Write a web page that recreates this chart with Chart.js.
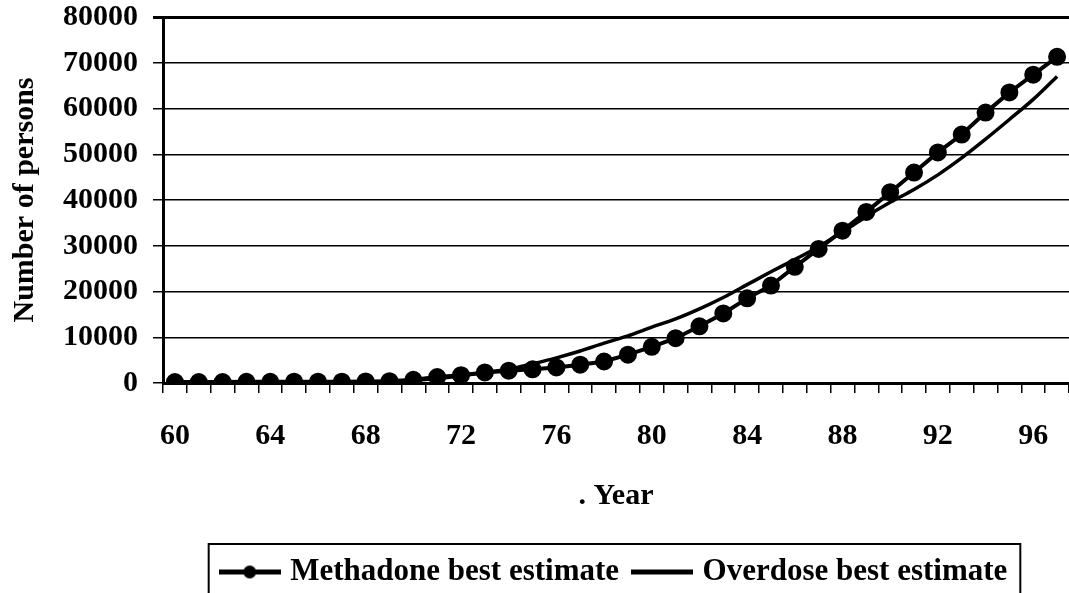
<!DOCTYPE html>
<html>
<head>
<meta charset="utf-8">
<script src="https://cdn.jsdelivr.net/npm/chart.js"></script>
<style>
  body { margin: 0; background: #fff; }
  #chart-wrapper { width: 1069px; height: 593px; }
</style>
</head>
<body>
<div id="chart-wrapper">
    <canvas id="my-chart"></canvas>
</div>

<script>
// years 1960 - 1997
var years = ['60','61','62','63','64','65','66','67','68','69',
             '70','71','72','73','74','75','76','77','78','79',
             '80','81','82','83','84','85','86','87','88','89',
             '90','91','92','93','94','95','96','97'];
var shownYears = ['60','64','68','72','76','80','84','88','92','96'];

var methadone = [200, 200, 200, 250, 250, 300, 300, 300, 350, 400,
                 700, 1300, 1700, 2300, 2700, 3000, 3400, 4000, 4700, 6200,
                 7900, 9800, 12400, 15200, 18500, 21300, 25400, 29300, 33300, 37400,
                 41700, 46000, 50400, 54300, 59100, 63500, 67400, 71300];

var overdose = [0, 0, 50, 100, 100, 150, 200, 250, 300, 400,
                600, 1000, 1600, 2300, 3000, 4200, 5500, 7000, 8700, 10300,
                12200, 14000, 16200, 18700, 21500, 24300, 27000, 29800, 33000, 36400,
                39500, 42300, 45500, 49200, 53300, 57600, 62000, 67000];

var seriesNames = ['Methadone best estimate', 'Overdose best estimate'];
var yTitle = 'Number of persons';
var xTitle = '. Year';

var FONT = '"Liberation Serif", "Times New Roman", serif';

// little pictures for the legend: line with dot, plain line
function legendIcon(withDot) {
    var c = document.createElement('canvas');
    c.width = 62;
    c.height = 16;
    var g = c.getContext('2d');
    g.fillStyle = '#000';
    g.fillRect(0, 6, 62, 5);
    if (withDot) {
        g.beginPath();
        g.arc(31, 8.5, 6.5, 0, Math.PI * 2);
        g.fill();
    }
    return c;
}
var icons = [legendIcon(true), legendIcon(false)];

var legendBox = {
    id: 'legendBox',
    afterDraw: function(chart) {
        var hb = chart.legend.legendHitBoxes;
        if (!hb || !hb.length) return;
        var last = hb[hb.length - 1];
        var c = chart.ctx;
        c.save();
        c.strokeStyle = '#000';
        c.lineWidth = 2;
        var left = hb[0].left - 16;
        var right = last.left + last.width + 13;
        var top = hb[0].top - 12;
        c.strokeRect(left, top, right - left, 80);
        c.restore();
    }
};

const ctx = document.getElementById('my-chart');
var chart = new Chart(ctx, {
    type: 'line',
    data: {
        labels: years,
        datasets: [{
            label: seriesNames[0],
            data: methadone,
            borderColor: '#000',
            backgroundColor: '#000',
            borderWidth: 4,
            pointRadius: 7,
            pointStyle: 'circle',
            pointBackgroundColor: '#000',
            pointBorderColor: '#000',
            tension: 0
        }, {
            label: seriesNames[1],
            data: overdose,
            borderColor: '#000',
            backgroundColor: '#000',
            borderWidth: 3.5,
            pointRadius: 0,
            cubicInterpolationMode: 'monotone'
        }]
    },
    options: {
        responsive: true,
        maintainAspectRatio: false,
        animation: false,
        layout: { autoPadding: false, padding: { top: 0, right: 0, bottom: -4, left: 0 } },
        plugins: {
            tooltip: { enabled: false },
            legend: {
                position: 'bottom',
                fullSize: false,
                labels: {
                    color: '#000',
                    font: { family: FONT, size: 31, weight: 'bold' },
                    usePointStyle: true,
                    pointStyleWidth: 50,
                    padding: 18,
                    generateLabels: function(chart) {
                        var items = Chart.defaults.plugins.legend.labels.generateLabels(chart);
                        items.forEach(function(it, i) { it.pointStyle = icons[i]; });
                        return items;
                    }
                }
            }
        },
        scales: {
            x: {
                type: 'category',
                offset: true,
                afterFit: function(s) {
                    s.height = 155;
                    s.paddingLeft = 0;
                    s.paddingRight = 0;
                },
                grid: {
                    offset: true,
                    drawOnChartArea: false,
                    drawTicks: true,
                    tickLength: 10,
                    color: '#000',
                    lineWidth: 1.5
                },
                border: { display: true, color: '#000', width: 3 },
                ticks: {
                    autoSkip: false,
                    maxRotation: 0,
                    padding: 8,
                    color: '#000',
                    font: { family: FONT, size: 30, weight: 'bold', lineHeight: 2.33 },
                    callback: function(v, i) {
                        var y = this.getLabelForValue(v);
                        return shownYears.indexOf(y) === -1 ? '' : y;
                    }
                },
                title: {
                    display: true,
                    text: xTitle,
                    color: '#000',
                    font: { family: FONT, size: 30, weight: 'bold' },
                    padding: { top: 0, bottom: 24 }
                }
            },
            y: {
                min: 0,
                max: 80000,
                afterFit: function(s) {
                    s.width = 163;
                    s.paddingTop = 17;
                    s.paddingBottom = 0;
                },
                grid: {
                    color: '#000',
                    lineWidth: function(c) { return c.tick && c.tick.value === 80000 ? 3 : 1.5; },
                    tickLength: 10
                },
                border: { display: true, color: '#000', width: 3 },
                ticks: {
                    stepSize: 10000,
                    padding: 15,
                    color: '#000',
                    font: { family: FONT, size: 30, weight: 'bold' },
                    callback: function(v) { return String(v); }
                },
                title: {
                    display: true,
                    text: yTitle,
                    color: '#000',
                    font: { family: FONT, size: 30, weight: 'bold' },
                    padding: { top: 7, bottom: 0 }
                }
            }
        }
    },
    plugins: [legendBox]
});
</script>
</body>
</html>
